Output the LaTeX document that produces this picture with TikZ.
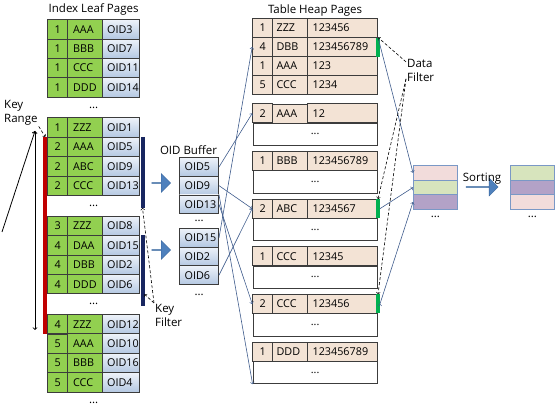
\documentclass[tikz,border=0pt]{standalone}
\usepackage{fontspec}
\setmainfont{Open Sans}
\usetikzlibrary{matrix,arrows,positioning,shapes.arrows}

\definecolor{leafgreen}{HTML}{92D050}
\definecolor{cellline}{HTML}{3C3C3C}
\definecolor{oidtop}{HTML}{EDF2F9}
\definecolor{oidbottom}{HTML}{B4C8E2}
\definecolor{heapfill}{HTML}{F3E3D5}
\definecolor{keyred}{HTML}{C00000}
\definecolor{keynavy}{HTML}{182660}
\definecolor{flaggreen}{HTML}{00B050}
\definecolor{linkblue}{HTML}{3F5C8C}
\definecolor{moveblue}{HTML}{4F81BD}
\definecolor{moveedge}{HTML}{3A679E}
\definecolor{respink}{HTML}{F2DCDB}
\definecolor{resgreen}{HTML}{D7E4BD}
\definecolor{respurple}{HTML}{B3A2C7}
\definecolor{resedge}{HTML}{7A98C6}

\tikzset{
  cell/.style={draw=cellline, line width=0.8pt, inner ysep=0pt, font=\fontsize{10.8}{12}\selectfont},
  leafpage/.style={matrix of nodes, inner sep=0pt, row sep=-0.8pt, column sep=-0.8pt,
    nodes={cell, minimum height=19.4pt},
    column 1/.style={nodes={fill=leafgreen, inner xsep=0pt, text width=20pt, align=center}},
    column 2/.style={nodes={fill=leafgreen, inner xsep=5.5pt, text width=24pt, align=left}},
    column 3/.style={nodes={top color=oidtop, bottom color=oidbottom, inner xsep=4.5pt, text width=28pt, align=left}}},
  heappage/.style={matrix of nodes, inner sep=0pt, row sep=-0.8pt, column sep=-0.8pt,
    nodes={cell, fill=heapfill, minimum height=19pt},
    column 1/.style={nodes={inner xsep=0pt, text width=20pt, align=center}},
    column 2/.style={nodes={inner xsep=4pt, text width=27pt, align=left}},
    column 3/.style={nodes={inner xsep=5pt, text width=60pt, align=left}}},
  oidbuffer/.style={matrix of nodes, inner sep=0pt, row sep=-0.8pt,
    nodes={cell, top color=oidtop, bottom color=oidbottom, minimum height=18.7pt,
      inner xsep=5pt, text width=29pt, align=left}},
  heaprest/.style={cell, fill=white, minimum width=124.2pt, minimum height=22.5pt},
  slot/.style={draw=resedge, line width=0.8pt, minimum width=44pt, minimum height=14.7pt, inner sep=0pt},
  gap/.style={inner sep=0pt, outer sep=0pt, minimum height=19.4pt},
  tag/.style={align=left, inner sep=1pt, font=\fontsize{11.5}{14}\selectfont},
  flag/.style={fill=flaggreen, minimum width=3.5pt, minimum height=19pt, inner sep=0pt},
  move/.style={single arrow, fill=moveblue, draw=moveedge, line width=0.4pt, inner sep=0pt,
    minimum width=19pt, minimum height=19pt, single arrow head extend=4.5pt},
  link/.style={->, draw=linkblue, line width=0.6pt},
  filter/.style={->, densely dashed, line width=0.6pt},
  keybar/.style={line width=4pt},
  rangeline/.style={line width=0.8pt},
}

\begin{document}
\begin{tikzpicture}[x=1pt, y=-1pt, font=\fontsize{11.5}{13}\selectfont]
  \useasboundingbox (0,0) rectangle (558,406);

  \matrix (leafA) [leafpage, anchor=north west] at (47,19)
  {
1 & AAA & OID3 \\
1 & BBB & OID7 \\
1 & CCC & OID11 \\
1 & DDD & OID14 \\
};
  \node (leafTitle) [above=0pt of leafA] {Index Leaf Pages};
  \node (gapA) [gap, below=0pt of leafA] {...};
  \matrix (leafB) [leafpage, below=0pt of gapA]
  {
1 & ZZZ & OID1 \\
2 & AAA & OID5 \\
2 & ABC & OID9 \\
2 & CCC & OID13 \\
};
  \node (gapB) [gap, below=0pt of leafB] {...};
  \matrix (leafC) [leafpage, below=0pt of gapB]
  {
3 & ZZZ & OID8 \\
4 & DAA & OID15 \\
4 & DBB & OID2 \\
4 & DDD & OID6 \\
};
  \node (gapC) [gap, below=0pt of leafC] {...};
  \matrix (leafD) [leafpage, below=0pt of gapC]
  {
4 & ZZZ & OID12 \\
5 & AAA & OID10 \\
5 & BBB & OID16 \\
5 & CCC & OID4 \\
};
  \node (gapD) [gap, below=0pt of leafD] {...};

  \coordinate (redTop) at ([xshift=-2pt]leafB-2-1.north west);
  \coordinate (redBottom) at ([xshift=-2pt]leafD-1-1.south west);
  \coordinate (navyATop) at ([xshift=2.5pt]leafB-2-3.north east);
  \coordinate (navyABottom) at ([xshift=2.5pt,yshift=-12pt]leafB-4-3.south east);
  \coordinate (navyBTop) at ([xshift=2.5pt]leafC-2-3.north east);
  \coordinate (navyBBottom) at ([xshift=2.5pt,yshift=-12pt]leafC-4-3.south east);
  \coordinate (navyBMark) at ([xshift=2pt,yshift=12pt]navyBBottom);
  \draw[keybar, keyred] (redTop) -- (redBottom);
  \draw[keybar, keynavy] (navyATop) -- (navyABottom);
  \draw[keybar, keynavy] (navyBTop) -- (navyBBottom);

  \coordinate (rangeTop) at (35,131);
  \coordinate (rangeBottom) at (35,330);
  \coordinate (rangeStart) at (2,232);
  \draw[rangeline, <->] (rangeTop) -- (rangeBottom);
  \draw[rangeline, ->] (rangeStart) -- (rangeTop);
  \node (keyRange) [tag, anchor=north west] at (3,99) {Key\\Range};
  \node (keyFilter) [tag, anchor=north west] at (154,303) {Key\\Filter};

  \node (moveA) [move] at (161,183) {};
  \node (moveB) [move] at (161,250) {};

  \matrix (bufA) [oidbuffer, anchor=north west] at (179,157)
  {
OID5 \\
OID9 \\
OID13 \\
};
  \node (bufTitle) [anchor=south east, inner sep=2pt] at (bufA.north east) {OID Buffer};
  \node (gapBufA) [gap, minimum height=13.5pt, below=0pt of bufA] {...};
  \matrix (bufB) [oidbuffer, below=0pt of gapBufA]
  {
OID15 \\
OID2 \\
OID6 \\
};
  \node (gapBufB) [gap, below=0pt of bufB] {...};

  \matrix (heapA) [heappage, anchor=north west] at (252,18)
  {
1 & ZZZ & 123456 \\
4 & DBB & 123456789 \\
1 & AAA & 123 \\
5 & CCC & 1234 \\
};
  \node (heapTitle) [above=0pt of heapA, inner sep=2pt] {Table Heap Pages};
  \matrix (heapB) [heappage, below=8pt of heapA]
  {
2 & AAA & 12 \\
};
  \node (restB) [heaprest, below=-0.8pt of heapB] {...};
  \matrix (heapC) [heappage, below=4.9pt of restB]
  {
1 & BBB & 123456789 \\
};
  \node (restC) [heaprest, below=-0.8pt of heapC] {...};
  \matrix (heapD) [heappage, below=4.9pt of restC]
  {
2 & ABC & 1234567 \\
};
  \node (restD) [heaprest, below=-0.8pt of heapD] {...};
  \matrix (heapE) [heappage, below=4.9pt of restD]
  {
1 & CCC & 12345 \\
};
  \node (restE) [heaprest, below=-0.8pt of heapE] {...};
  \matrix (heapF) [heappage, below=4.9pt of restE]
  {
2 & CCC & 123456 \\
};
  \node (restF) [heaprest, below=-0.8pt of heapF] {...};
  \matrix (heapG) [heappage, below=4.9pt of restF]
  {
1 & DDD & 123456789 \\
};
  \node (restG) [heaprest, below=-0.8pt of heapG] {...};

  \node (flagA) [flag] at (heapA-2-3.east) {};
  \node (flagB) [flag] at (heapD-1-3.east) {};
  \node (flagC) [flag] at (heapF-1-3.east) {};
  \node (dataFilter) [tag, anchor=north west] at (406,58) {Data\\Filter};

  \node (resA1) [slot, fill=respink, anchor=north west] at (413,165) {};
  \node (resA2) [slot, fill=resgreen, below=-0.8pt of resA1] {};
  \node (resA3) [slot, fill=respurple, below=-0.8pt of resA2] {};
  \node (gapResA) [gap, minimum height=14pt, below=0pt of resA3] {...};
  \node (sortMove) [move, minimum height=32pt, minimum width=18pt] at (482,187) {};
  \node (sortTitle) [above=0pt of sortMove, inner sep=2pt] {Sorting};
  \node (resB1) [slot, fill=resgreen, anchor=north west] at (510,165) {};
  \node (resB2) [slot, fill=respurple, below=-0.8pt of resB1] {};
  \node (resB3) [slot, fill=respink, below=-0.8pt of resB2] {};
  \node (gapResB) [gap, minimum height=14pt, below=0pt of resB3] {...};

  \path[link]
  (bufA-1-1.east) edge (heapB-1-1.west)
  (bufA-2-1.east) edge (heapD-1-1.west)
  (bufA-3-1.east) edge (heapF-1-1.west)
  (bufA-3-1.north east) edge (restG.south west)
  (bufB-1-1.east) edge (heapA-2-1.west)
  (bufB-3-1.east) edge (heapD-1-1.west)
  (flagA.north) edge (resA1.west)
  (flagB.east) edge (resA2.west)
  (flagC.east) edge (resA3.west)
;
  \path[filter]
  (keyRange.south east) edge (redTop)
  (keyFilter.north west) edge (navyABottom)
  (keyFilter.north west) edge (navyBMark)
  (dataFilter.150) edge (flagA.north)
  (dataFilter.210) edge (flagB.north)
  (dataFilter.210) edge (flagC.north)
;
\end{tikzpicture}
\end{document}
